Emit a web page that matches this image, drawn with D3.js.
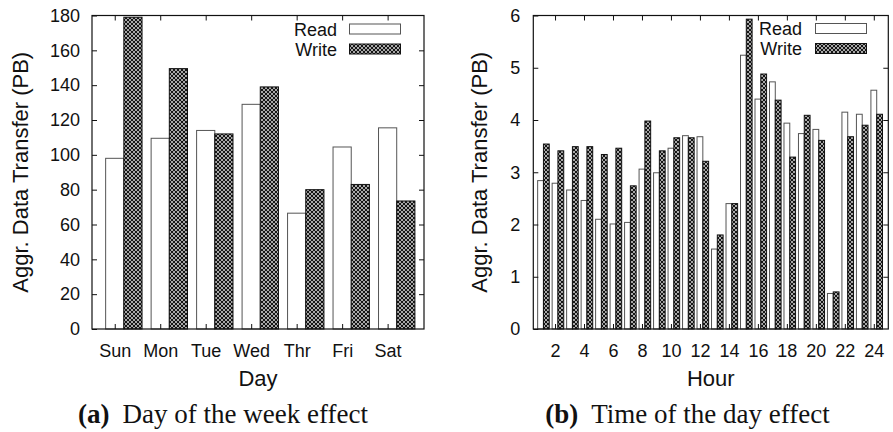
<!DOCTYPE html>
<html>
<head>
<meta charset="utf-8">
<script src="https://cdn.jsdelivr.net/npm/d3@7"></script>
<style>
  html, body { margin: 0; padding: 0; background: #fff; }
  svg { display: block; }
  .tick text { font-family: "Liberation Sans", Arial, sans-serif; fill: #111; }
</style>
</head>
<body>
<svg id="fig" width="893" height="432"></svg>
<script>
// Aggregate data transfer per weekday (PB)
const days = ["Sun", "Mon", "Tue", "Wed", "Thr", "Fri", "Sat"];
const dayRead = [98, 109.5, 114, 129, 66.5, 104.5, 115.5];
const dayWrite = [179, 149.5, 112, 139, 80, 83, 73.5];
const dayTicks = [0, 20, 40, 60, 80, 100, 120, 140, 160, 180];

// Aggregate data transfer per hour of day (PB)
const hours = [1, 2, 3, 4, 5, 6, 7, 8, 9, 10, 11, 12, 13, 14, 15, 16, 17, 18, 19, 20, 21, 22, 23, 24];
const hourRead = [2.84, 2.79, 2.66, 2.46, 2.10, 2.01, 2.04, 3.06, 2.99, 3.46, 3.70, 3.68,
                  1.53, 2.40, 5.24, 4.40, 4.73, 3.94, 3.74, 3.82, 0.68, 4.15, 4.11, 4.57];
const hourWrite = [3.54, 3.41, 3.49, 3.49, 3.34, 3.46, 2.74, 3.98, 3.41, 3.66, 3.66, 3.21,
                   1.80, 2.40, 5.93, 4.88, 4.38, 3.29, 4.09, 3.61, 0.71, 3.68, 3.90, 4.11];
const hourTicks = [0, 1, 2, 3, 4, 5, 6];
const hourLabels = [2, 4, 6, 8, 10, 12, 14, 16, 18, 20, 22, 24];

const seriesNames = ["Read", "Write"];

const svg = d3.select("#fig");
const SANS = "'Liberation Sans', Arial, Helvetica, sans-serif";
const SERIF = "'Liberation Serif', 'Times New Roman', serif";

// Cross-hatched fill used for the Write bars
const defs = svg.append("defs");
const pat = defs.append("pattern")
  .attr("id", "hatch")
  .attr("patternUnits", "userSpaceOnUse")
  .attr("width", 4).attr("height", 4);
pat.append("rect").attr("width", 4).attr("height", 4).attr("fill", "#a8a8a8");
[[0,0],[1,1],[2,2],[3,3],[0,3],[1,2],[2,1],[3,0]].forEach(([px, py]) => {
  pat.append("rect").attr("x", px).attr("y", py).attr("width", 1).attr("height", 1).attr("fill", "#151515");
});

const BAR_W = 0.4;

function drawPanel(opt) {
  const g = svg.append("g");
  const x = d3.scaleLinear().domain(opt.xDomain).range([opt.left, opt.right]);
  const y = d3.scaleLinear().domain(opt.yDomain).range([opt.bottom, opt.top]);

  // bars
  const rows = opt.keys.map((k, i) => ({ k, read: opt.read[i], write: opt.write[i] }));
  g.selectAll("rect.read").data(rows).join("rect")
    .attr("class", "read")
    .attr("x", d => x(d.k - BAR_W / 2))
    .attr("width", d => x(d.k + BAR_W / 2) - x(d.k - BAR_W / 2))
    .attr("y", d => y(d.read))
    .attr("height", d => y(0) - y(d.read))
    .attr("fill", "#fff").attr("stroke", "#555").attr("stroke-width", 1);
  g.selectAll("rect.write").data(rows).join("rect")
    .attr("class", "write")
    .attr("x", d => x(d.k + BAR_W / 2))
    .attr("width", d => x(d.k + 1.5 * BAR_W) - x(d.k + BAR_W / 2))
    .attr("y", d => y(d.write))
    .attr("height", d => y(0) - y(d.write))
    .attr("fill", "url(#hatch)").attr("stroke", "#111").attr("stroke-width", 1);

  // axes with inward ticks on all four sides
  const yl = g.append("g").attr("transform", `translate(${opt.left},0)`)
    .call(d3.axisLeft(y).tickValues(opt.yTicks).tickSizeInner(-5).tickSizeOuter(0)
      .tickPadding(opt.yPad).tickFormat(d3.format("d")));
  const yr = g.append("g").attr("transform", `translate(${opt.right},0)`)
    .call(d3.axisRight(y).tickValues(opt.yTicks.slice(1, -1)).tickSizeInner(-5).tickSizeOuter(0).tickFormat(""));
  const xb = g.append("g").attr("transform", `translate(0,${opt.bottom})`)
    .call(d3.axisBottom(x).tickValues(opt.xTicks).tickSizeInner(-5).tickSizeOuter(0).tickPadding(15)
      .tickFormat(opt.xFormat));
  const xt = g.append("g").attr("transform", `translate(0,${opt.top})`)
    .call(d3.axisTop(x).tickValues(opt.xTicks).tickSizeInner(-5).tickSizeOuter(0).tickFormat(""));
  [yl, yr, xb, xt].forEach(a => {
    a.select(".domain").remove();
    a.selectAll("line").attr("stroke", "#111").attr("stroke-width", 1);
    a.selectAll("text").attr("font-size", 18).attr("font-family", SANS).attr("fill", "#111");
  });

  // frame
  g.append("rect")
    .attr("x", opt.left).attr("y", opt.top)
    .attr("width", opt.right - opt.left).attr("height", opt.bottom - opt.top)
    .attr("fill", "none").attr("stroke", "#111").attr("stroke-width", 1.2);

  // legend
  const lg = g.append("g");
  seriesNames.forEach((name, i) => {
    const cy = opt.legendY + i * 20;
    lg.append("text")
      .attr("x", opt.legendTextX).attr("y", cy + 6.5)
      .attr("text-anchor", "end")
      .attr("font-family", SANS).attr("font-size", 18).attr("fill", "#111")
      .text(name);
    lg.append("rect")
      .attr("x", opt.legendBoxX).attr("y", cy - 5)
      .attr("width", 51).attr("height", 10)
      .attr("fill", i === 0 ? "#fff" : "url(#hatch)")
      .attr("stroke", i === 0 ? "#555" : "#111").attr("stroke-width", 1);
  });

  // axis titles
  g.append("text")
    .attr("transform", `translate(${opt.yTitleX},${(opt.top + opt.bottom) / 2}) rotate(-90)`)
    .attr("text-anchor", "middle")
    .attr("font-family", SANS).attr("font-size", 22).attr("fill", "#111")
    .text("Aggr. Data Transfer (PB)");
  g.append("text")
    .attr("x", (opt.left + opt.right) / 2).attr("y", 386)
    .attr("text-anchor", "middle")
    .attr("font-family", SANS).attr("font-size", 22).attr("fill", "#111")
    .text(opt.xTitle);

  // sub-figure caption
  const cap = g.append("text")
    .attr("x", opt.captionX).attr("y", 423)
    .attr("text-anchor", "middle")
    .attr("font-family", SERIF).attr("font-size", 27).attr("fill", "#111");
  cap.append("tspan").attr("font-weight", "bold").text(opt.captionTag);
  cap.append("tspan").attr("dx", 13).text(opt.caption);
}

drawPanel({
  left: 92, right: 424, top: 15.5, bottom: 329,
  xDomain: [-0.5, 6.8], yDomain: [0, 180],
  keys: days.map((d, i) => i), read: dayRead, write: dayWrite,
  xTicks: days.map((d, i) => i), xFormat: i => days[i],
  yTicks: dayTicks, yPad: 12,
  legendTextX: 337, legendBoxX: 349.5, legendY: 29,
  yTitleX: 28, xTitle: "Day",
  captionX: 223, captionTag: "(a)", caption: "Day of the week effect"
});

drawPanel({
  left: 533.3, right: 888.3, top: 15.5, bottom: 329,
  xDomain: [0.5, 25], yDomain: [0, 6],
  keys: hours, read: hourRead, write: hourWrite,
  xTicks: hourLabels, xFormat: d => d,
  yTicks: hourTicks, yPad: 13,
  legendTextX: 802, legendBoxX: 815.5, legendY: 28.5,
  yTitleX: 486.5, xTitle: "Hour",
  captionX: 687.5, captionTag: "(b)", caption: "Time of the day effect"
});
</script>
</body>
</html>
